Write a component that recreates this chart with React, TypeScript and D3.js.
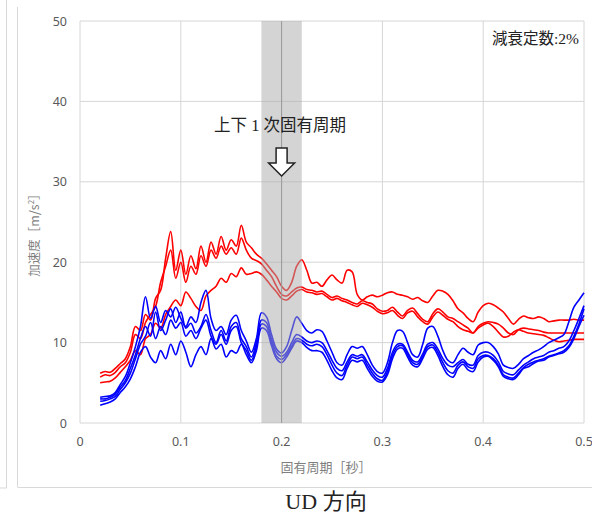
import React from "react";
import * as d3 from "d3";

// sample periods (s): 0.02 .. 0.50, every 0.005
const periods: number[] = d3.range(0, 97).map((i) => +(0.02 + i * 0.005).toFixed(3));

const red1 = [6.2,6.4,6.3,6.8,7.4,8.0,9.5,12.0,11.5,13.5,12.8,15.5,16.5,20.5,23.8,19.0,21.5,18.5,20.8,19.2,22.0,20.0,22.5,21.0,23.2,21.5,22.8,22.0,24.6,22.5,21.8,21.0,20.5,19.8,19.0,18.2,17.0,16.5,17.5,19.5,20.3,19.0,17.4,17.5,17.0,17.8,18.4,17.8,17.4,19.0,18.8,16.0,15.3,15.7,15.9,15.7,15.9,16.2,16.3,16.0,15.9,15.7,15.4,15.6,15.2,15.0,15.8,16.5,16.4,16.0,15.2,14.2,13.7,13.0,12.6,13.8,14.6,14.9,14.7,14.3,13.8,13.0,12.3,12.9,13.3,13.1,13.0,13.2,13.0,12.6,12.7,12.8,12.8,12.8,12.9,12.8,12.8];
const red2 = [5.7,6.0,5.9,6.3,7.0,7.5,8.8,11.0,10.5,12.5,13.5,14.5,17.5,19.5,21.5,18.0,20.0,17.5,19.5,18.5,20.8,19.5,21.5,20.5,22.0,21.0,21.8,21.0,23.0,21.5,20.5,20.2,19.8,19.0,18.2,17.0,16.0,15.8,16.3,16.8,16.9,16.6,16.5,16.3,16.4,16.0,15.6,15.8,15.5,15.3,15.0,14.8,15.2,15.0,14.8,14.2,13.9,14.0,14.4,13.8,13.3,14.0,14.3,13.6,12.9,12.6,13.6,14.2,13.8,13.2,13.0,12.6,12.2,11.8,11.2,12.0,12.4,12.6,12.5,12.3,11.8,11.2,11.0,11.6,11.8,11.7,11.6,11.5,11.3,11.2,11.2,11.2,11.2,11.2,11.2,11.2,11.2];
const red3 = [5.0,5.1,5.2,5.6,6.3,7.0,7.8,9.0,8.5,10.5,11.0,12.4,11.8,13.5,14.5,15.3,14.6,16.3,15.5,14.5,14.0,15.8,16.5,17.0,18.0,17.5,18.6,18.2,19.3,18.5,18.6,18.8,18.5,17.8,17.0,16.3,15.5,15.3,15.8,16.4,16.6,16.3,16.2,16.0,16.1,15.7,15.3,15.5,15.2,15.0,14.7,14.5,14.9,14.7,14.4,13.9,13.6,13.7,14.0,13.4,13.0,13.7,13.9,13.2,12.6,12.3,13.2,13.8,13.4,12.9,12.6,12.0,11.6,11.4,11.2,11.8,12.2,12.4,12.0,11.3,10.7,10.8,11.3,11.6,11.4,11.2,11.1,11.0,10.9,10.6,10.3,10.1,10.2,10.3,10.4,10.4,10.4];
const blue1 = [3.2,3.3,3.4,3.8,4.8,5.8,7.5,9.5,12.0,15.7,13.0,14.5,12.5,14.0,13.2,14.4,13.0,12.0,13.2,12.5,15.0,16.5,13.0,11.5,12.0,11.0,12.8,13.4,11.5,10.2,8.8,10.5,13.7,13.2,11.0,9.2,8.7,9.5,11.5,13.2,12.4,11.5,11.2,11.6,11.4,10.2,8.8,7.5,7.2,8.5,9.5,9.3,9.5,8.5,7.2,6.4,6.2,7.5,10.0,11.5,11.4,10.0,8.5,8.2,9.8,11.8,12.0,10.8,9.0,7.8,7.5,8.5,9.3,8.8,8.5,9.7,10.0,10.0,9.5,8.6,7.2,6.9,6.8,7.3,8.0,8.4,8.8,9.1,9.5,10.0,10.3,10.6,11.0,12.6,14.4,15.3,16.2];
const blue2 = [3.0,3.0,3.2,3.6,4.5,5.3,6.8,8.5,10.5,12.0,10.8,13.8,11.5,12.8,14.2,12.5,13.8,11.8,12.4,11.2,12.0,13.5,11.5,10.0,11.5,10.2,12.0,12.5,10.5,9.5,8.2,10.0,12.8,12.5,10.4,8.8,8.3,8.8,10.0,11.0,10.7,10.2,10.0,10.2,10.0,9.0,7.8,6.8,6.5,7.6,8.5,8.3,8.5,7.6,6.6,5.9,5.7,6.8,8.8,9.8,9.8,8.8,7.8,7.6,8.6,9.8,10.0,9.2,8.0,7.2,7.0,7.5,7.9,7.3,7.2,8.4,8.8,8.8,8.4,7.6,6.4,6.1,6.0,6.6,7.2,7.6,8.0,8.2,8.4,8.8,9.0,9.3,9.5,10.2,11.5,13.0,14.6];
const blue3 = [2.7,2.8,3.0,3.3,4.2,5.0,6.2,8.0,9.8,10.8,12.5,10.5,12.0,11.0,12.8,11.8,12.5,10.8,11.5,10.5,11.8,12.8,10.8,9.8,11.0,9.8,11.5,12.0,10.0,9.0,7.8,9.5,12.3,12.0,10.0,8.3,7.9,8.5,9.6,10.5,10.3,9.8,9.6,9.8,9.5,8.5,7.2,6.2,5.9,7.2,8.2,8.0,8.2,7.2,6.2,5.5,5.3,6.4,8.4,9.5,9.6,8.5,7.5,7.3,8.3,9.5,9.7,8.8,7.5,6.5,6.2,7.2,7.6,7.0,6.8,8.0,8.4,8.4,8.0,7.2,6.0,5.7,5.6,6.2,6.9,7.3,7.6,7.8,8.0,8.3,8.5,8.7,9.0,9.6,10.8,12.3,14.2];
const blue4 = [2.2,2.4,2.6,3.0,3.8,4.5,5.5,7.0,8.8,9.5,8.2,7.5,9.0,8.0,9.8,8.5,10.2,8.8,7.0,8.5,9.5,8.5,10.5,9.2,9.8,8.2,9.0,8.7,9.8,8.5,7.5,9.0,11.8,11.5,9.6,8.0,7.5,8.2,9.3,10.2,10.0,9.4,9.0,9.0,8.8,7.8,6.5,5.6,5.4,6.8,7.8,7.6,7.8,6.8,5.8,5.2,5.1,6.0,8.0,9.2,9.3,8.2,7.2,7.0,8.0,9.2,9.4,8.4,7.0,6.0,5.7,6.8,7.3,6.6,6.4,7.6,8.2,8.3,7.8,7.0,5.8,5.5,5.4,6.0,6.8,7.0,7.4,7.7,7.8,8.2,8.4,8.6,8.8,9.4,10.5,12.0,13.4];

const redSeries = [red1, red2, red3];
const blueSeries = [blue1, blue2, blue3, blue4];

const xTicks = [0, 0.1, 0.2, 0.3, 0.4, 0.5];
const yTicks = [0, 10, 20, 30, 40, 50];
const bandRange = [0.18, 0.22];
const markPeriod = 0.2;

export default function App() {
  const W = 592, H = 513;
  const x = d3.scaleLinear().domain([0, 0.5]).range([80, 584]);
  const y = d3.scaleLinear().domain([0, 50]).range([423, 21]);
  const line = d3
    .line<number>()
    .x((_, i) => x(periods[i]))
    .y((v) => y(v))
    .curve(d3.curveCatmullRom.alpha(0.5));

  const grid = "#d6d6d6";
  const tickColor = "#595959";
  const ax = x(markPeriod);

  return (
    <svg width={W} height={H} style={{ position: "absolute", left: 0, top: 0, background: "#fff" }}>
      {/* surrounding frames */}
      <line x1={6.5} y1={0} x2={6.5} y2={488} stroke="#d9d9d9" />
      <line x1={0} y1={488} x2={6.5} y2={488} stroke="#d9d9d9" />
      <line x1={17.5} y1={7} x2={17.5} y2={487} stroke="#d9d9d9" />
      <line x1={17.5} y1={487.5} x2={592} y2={487.5} stroke="#d9d9d9" />

      {/* grid */}
      {yTicks.map((t) => (
        <line key={"gy" + t} x1={x(0)} x2={x(0.5)} y1={y(t)} y2={y(t)} stroke={grid} strokeWidth={1} />
      ))}
      {xTicks.map((t) => (
        <line key={"gx" + t} x1={x(t)} x2={x(t)} y1={y(0)} y2={y(50)} stroke={grid} strokeWidth={1} />
      ))}

      {/* series */}
      {redSeries.map((s, i) => (
        <path key={"r" + i} d={line(s) || ""} fill="none" stroke="#ff0000" strokeWidth={1.6} strokeLinejoin="round" />
      ))}
      {blueSeries.map((s, i) => (
        <path key={"b" + i} d={line(s) || ""} fill="none" stroke="#0000ff" strokeWidth={1.6} strokeLinejoin="round" />
      ))}

      {/* natural period band */}
      <rect
        x={x(bandRange[0])}
        y={y(50)}
        width={x(bandRange[1]) - x(bandRange[0])}
        height={y(0) - y(50)}
        fill="#a9a9a9"
        fillOpacity={0.5}
      />
      <line x1={ax} x2={ax} y1={y(0)} y2={y(50)} stroke="#9a9a9a" strokeWidth={1} />

      {/* tick labels */}
      {yTicks.map((t) => (
        <text key={"ly" + t} x={67} y={y(t) + 4.5} textAnchor="end" fontFamily="'Noto Sans', sans-serif" fontSize={12.5} fill={tickColor}>
          {t}
        </text>
      ))}
      {xTicks.map((t) => (
        <text key={"lx" + t} x={x(t)} y={446} textAnchor="middle" fontFamily="'Noto Sans', sans-serif" fontSize={12.5} fill={tickColor}>
          {t}
        </text>
      ))}

      {/* axis titles */}
      <text x={326} y={472} textAnchor="middle" fontFamily="'Noto Sans CJK JP', sans-serif" fontSize={13} fill="#7f7f7f">
        固有周期［秒］
      </text>
      <text
        transform="translate(39,232) rotate(-90)"
        textAnchor="middle"
        fontFamily="'Noto Sans CJK JP', sans-serif"
        fontSize={12.5}
        fill="#7f7f7f"
      >
        加速度［m/s<tspan fontSize={8} dy={-5}>2</tspan><tspan dy={5}>］</tspan>
      </text>

      {/* annotations */}
      <text x={280} y={131} textAnchor="middle" fontFamily="'Liberation Serif', 'Noto Sans CJK JP', serif" fontSize={16.5} fill="#222">
        上下 1 次固有周期
      </text>
      <path
        d={`M${ax - 5.5},148 L${ax + 5.5},148 L${ax + 5.5},163 L${ax + 13},163 L${ax},176 L${ax - 13},163 L${ax - 5.5},163 Z`}
        fill="#fff"
        stroke="#222"
        strokeWidth={1.5}
        strokeLinejoin="miter"
      />
      <text x={579} y={44} textAnchor="end" fontFamily="'Liberation Serif', 'Noto Sans CJK JP', serif" fontSize={15.5} fill="#222">
        減衰定数:2%
      </text>

      {/* caption */}
      <text x={326} y={509} textAnchor="middle" fontFamily="'Liberation Serif', 'Noto Sans CJK JP', serif" fontSize={22} fill="#222">
        UD 方向
      </text>
    </svg>
  );
}
